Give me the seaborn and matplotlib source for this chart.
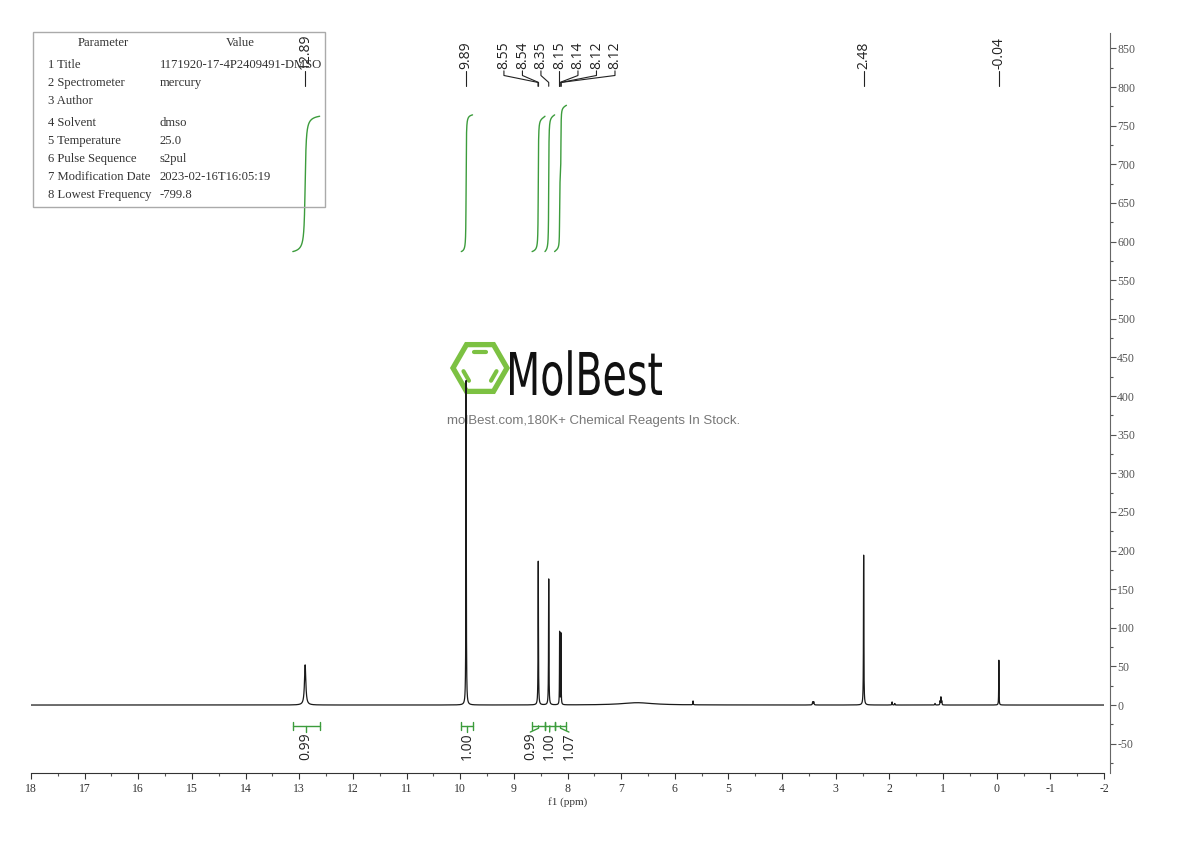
import numpy as np
import matplotlib
matplotlib.use("Agg")
import matplotlib.pyplot as plt
import seaborn as sns
from matplotlib.patches import Rectangle, RegularPolygon, PathPatch
from matplotlib.textpath import TextPath
from matplotlib.font_manager import FontProperties
from matplotlib.transforms import IdentityTransform, Affine2D
from matplotlib.ticker import MultipleLocator

# --- data -----------------------------------------------------------------
# peak list: position (ppm), height (a.u.), half width (ppm)
peak_ppm = [12.89, 9.89, 8.545, 8.35, 8.147, 8.122, 6.70, 5.66,
            3.43, 3.41, 2.48, 1.95, 1.90, 1.15, 1.055, 1.04, 1.025, -0.04]
peak_height = [52, 420, 186, 163, 94, 92, 3, 5,
               4, 4, 194, 4, 2, 2, 5, 10, 5, 58]
peak_width = [0.015, 0.004, 0.004, 0.004, 0.003, 0.003, 0.35, 0.004,
              0.006, 0.006, 0.004, 0.004, 0.004, 0.005, 0.004, 0.004, 0.004, 0.003]

# peak picking labels, grouped as drawn
label_groups = [[12.89], [9.89],
                [8.55, 8.54, 8.35, 8.15, 8.14, 8.12, 8.12],
                [2.48], [-0.04]]

# integral regions (from, to, value), grouped as drawn
integral_groups = [[(13.12, 12.62, 0.99)],
                   [(9.98, 9.77, 1.00)],
                   [(8.66, 8.42, 0.99), (8.42, 8.24, 1.00), (8.24, 8.02, 1.07)]]

param_names = ["1 Title", "2 Spectrometer", "3 Author", "4 Solvent", "5 Temperature",
               "6 Pulse Sequence", "7 Modification Date", "8 Lowest Frequency"]
param_values = ["1171920-17-4P2409491-DMSO", "mercury", "", "dmso", "25.0",
                "s2pul", "2023-02-16T16:05:19", "-799.8"]

# --- build the trace -------------------------------------------------------
ppm = np.linspace(18, -2, 40001)
intensity = np.zeros_like(ppm)
for p, h, w in zip(peak_ppm, peak_height, peak_width):
    intensity += h / (1 + ((ppm - p) / w) ** 2)

sns.set_style("ticks")
plt.rcParams['font.family'] = ['Liberation Serif', 'DejaVu Serif']
plt.rcParams['axes.unicode_minus'] = False

W, H = 1190, 841
fig = plt.figure(figsize=(W / 100, H / 100), dpi=100)
ax = fig.add_axes([31 / W, 1 - 773 / H, (1104 - 31) / W, (773 - 33) / H])

sns.lineplot(x=ppm, y=intensity, ax=ax, color='#1a1a1a', linewidth=0.9,
             estimator=None, sort=False, zorder=3)

green = '#3c9c3c'
int_base, int_scale = 587, 177

# integral curves + brackets
for group in integral_groups:
    centers = [(a + b) / 2 for a, b, _ in group]
    n = len(group)
    mid = np.mean(centers)
    for i, (a, b, val) in enumerate(group):
        mask = (ppm <= a) & (ppm >= b)
        cum = np.cumsum(intensity[mask])
        sns.lineplot(x=ppm[mask], y=int_base + int_scale * val * cum / cum[-1],
                     ax=ax, color=green, linewidth=1.0, estimator=None, sort=False)
        ax.plot([a, b], [-27, -27], color=green, lw=1)
        ax.plot([a, a], [-22, -32], color=green, lw=1)
        ax.plot([b, b], [-22, -32], color=green, lw=1)
        c = centers[i]
        lx = c if n == 1 else mid - 0.36 * (i - (n - 1) / 2)
        if n == 1:
            ax.plot([c, c], [-27, -35], color=green, lw=1)
        else:
            ax.plot([c, c, lx], [-27, -30, -35], color=green, lw=1)
        ax.text(lx, -36, f"{val:.2f}", rotation=90, ha='center', va='top',
                fontsize=10, color='#222', family=['Open Sans', 'DejaVu Sans'])

# peak labels
for group in label_groups:
    n = len(group)
    center = np.median(group)
    for i, p in enumerate(group):
        if n == 1:
            lx = p
            ax.plot([p, p], [801, 821], color='#222', lw=0.8)
        else:
            lx = center - 0.345 * (i - (n - 1) / 2)
            ax.plot([lx, lx, p, p], [821, 815, 806, 801], color='#222', lw=0.8)
        ax.text(lx, 824, f"{p:.2f}", rotation=90, ha='center', va='bottom',
                fontsize=10, color='#222', family=['Open Sans', 'DejaVu Sans'])

ax.set_xlim(18, -2)
ax.set_ylim(-88, 870)
ax.xaxis.set_major_locator(MultipleLocator(1))
ax.xaxis.set_minor_locator(MultipleLocator(0.5))
ax.yaxis.set_major_locator(MultipleLocator(50))
ax.yaxis.set_minor_locator(MultipleLocator(25))
ax.yaxis.tick_right()
ax.spines['left'].set_visible(False)
ax.spines['top'].set_visible(False)
ax.spines['bottom'].set_color('#333')
ax.spines['right'].set_color('#666')
ax.spines['right'].set_position(('outward', 4))
ax.tick_params(which='major', length=4, width=0.8, labelsize=8.5, colors='#555', pad=1.5)
ax.tick_params(which='minor', length=2.5, width=0.8, colors='#555')
ax.tick_params(axis='x', colors='#333', pad=3)
ax.set_xlabel("f1 (ppm)", fontsize=8, labelpad=2, color='#333')
ax.set_ylabel("")

# parameter table
fig.add_artist(Rectangle((33 / W, 1 - 207 / H), 292 / W, 175 / H, transform=fig.transFigure,
                         fill=False, edgecolor='#aaa', lw=1))
fig.text(103 / W, 1 - 43 / H, "Parameter", ha='center', va='center', fontsize=9.1, color='#333')
fig.text(240 / W, 1 - 43 / H, "Value", ha='center', va='center', fontsize=9.1, color='#333')
row_y = [65, 83, 101, 123, 141, 159, 177, 195]
for y, name, val in zip(row_y, param_names, param_values):
    fig.text(48 / W, 1 - y / H, name, ha='left', va='center', fontsize=9.1, color='#333')
    fig.text(160 / W, 1 - y / H, val, ha='left', va='center', fontsize=9.1, color='#333')

# watermark: narrow logotype, logo hexagon and tagline
tp = TextPath((0, 0), "MolBest", size=59, prop=FontProperties(family='DejaVu Sans'))
ext = tp.get_extents()
sx = 152 / ext.width
logo_tf = Affine2D().translate(-ext.x0, 0).scale(sx, 1).translate(510, H - 395) + IdentityTransform()
ax.add_patch(PathPatch(tp, transform=logo_tf, facecolor='#111', lw=0, clip_on=False, zorder=1))
ax.text(594 / W, 1 - 421 / H, "molBest.com,180K+ Chemical Reagents In Stock.",
        transform=fig.transFigure, ha='center', va='center', fontsize=9.5, color='#777',
        zorder=1, family=['Liberation Sans', 'DejaVu Sans'])
hx, hy, r = 480, H - 368, 27
logo_green = '#7cc142'
ax.add_patch(RegularPolygon((hx, hy), 6, radius=r, orientation=np.pi / 6, transform=IdentityTransform(),
                            fill=False, edgecolor=logo_green, lw=3.8, clip_on=False, zorder=1))
angles = np.deg2rad([0, 60, 120, 180, 240, 300])
vx, vy = hx + r * np.cos(angles), hy + r * np.sin(angles)
for k in (1, 3, 5):  # top, lower-left, lower-right edges
    x0, y0, x1, y1 = vx[k], vy[k], vx[(k + 1) % 6], vy[(k + 1) % 6]
    x0, y0 = hx + 0.68 * (x0 - hx), hy + 0.68 * (y0 - hy)
    x1, y1 = hx + 0.68 * (x1 - hx), hy + 0.68 * (y1 - hy)
    dx, dy = x1 - x0, y1 - y0
    ax.plot([x0 + 0.2 * dx, x1 - 0.2 * dx], [y0 + 0.2 * dy, y1 - 0.2 * dy], color=logo_green,
            lw=3, transform=IdentityTransform(), clip_on=False, zorder=1, solid_capstyle='round')

fig.savefig("out.png", dpi=100)
